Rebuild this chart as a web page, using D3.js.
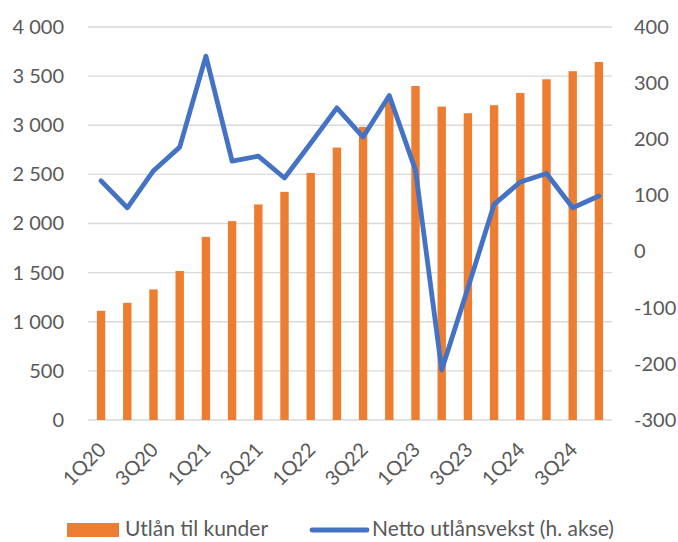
<!DOCTYPE html>
<html>
<head>
<meta charset="utf-8">
<script src="https://cdn.jsdelivr.net/npm/d3@7"></script>
<style>
  body { margin: 0; background: #fff; }
  text { font-family: Lato, 'Noto Sans', sans-serif; fill: #595959; }
</style>
</head>
<body>
<div id="chart"></div>
<script>
const quarters = ['1Q20', '2Q20', '3Q20', '4Q20', '1Q21', '2Q21', '3Q21', '4Q21',
  '1Q22', '2Q22', '3Q22', '4Q22', '1Q23', '2Q23', '3Q23', '4Q23',
  '1Q24', '2Q24', '3Q24', '4Q24']
const utlan = [1112, 1193, 1329, 1517, 1864, 2024, 2194, 2322,
  2515, 2773, 2983, 3250, 3400, 3190, 3122, 3204,
  3329, 3468, 3550, 3644]
const nettoVekst = [126, 78, 144, 186, 348, 161, 170, 131,
  193, 256, 204, 278, 145, -211, -65, 84,
  124, 139, 78, 99]
const leftTicks = [0, 500, 1000, 1500, 2000, 2500, 3000, 3500, 4000]
const rightTicks = [-300, -200, -100, 0, 100, 200, 300, 400]
const seriesNames = ['Utlån til kunder', 'Netto utlånsvekst (h. akse)']

const margin = { top: 27, left: 88, right: 66, bottom: 122 }
const width = 678 - margin.left - margin.right
const height = 542 - margin.top - margin.bottom

const svg = d3
  .select('#chart')
  .append('svg')
  .attr('width', 678)
  .attr('height', 542)

const g = svg
  .append('g')
  .attr('transform', 'translate(' + margin.left + ',' + margin.top + ')')

const xScale = d3.scaleBand()
  .domain(quarters)
  .range([0, width])
  .paddingInner(0.68)
  .paddingOuter(0.34)
const xPoint = d => xScale(d) + xScale.bandwidth() / 2

const yLeft = d3.scaleLinear().domain([0, 4000]).range([height, 0])
const yRight = d3.scaleLinear().domain([-300, 400]).range([height, 0])

// gridlines
g.selectAll('.grid')
  .data(leftTicks)
  .enter()
  .append('line')
  .attr('x1', 0)
  .attr('x2', width)
  .attr('y1', d => yLeft(d))
  .attr('y2', d => yLeft(d))
  .attr('stroke', '#d9d9d9')
  .attr('stroke-width', 1.3)

// bars
g.selectAll('.bar')
  .data(utlan)
  .enter()
  .append('rect')
  .attr('x', (d, i) => xScale(quarters[i]))
  .attr('y', d => yLeft(d))
  .attr('width', xScale.bandwidth())
  .attr('height', d => height - yLeft(d))
  .attr('fill', '#ED7D31')

// line
const line = d3
  .line()
  .x((d, i) => xPoint(quarters[i]))
  .y(d => yRight(d))

g.append('path')
  .datum(nettoVekst)
  .attr('d', line)
  .attr('fill', 'none')
  .attr('stroke', '#4472C4')
  .attr('stroke-width', 4.8)
  .attr('stroke-linejoin', 'round')
  .attr('stroke-linecap', 'round')

// left axis, space as thousands separator
const yAxisLeft = d3.axisLeft(yLeft)
  .tickValues(leftTicks)
  .tickSize(0)
  .tickPadding(24)
  .tickFormat(d => d3.format(',')(d).replace(',', ' '))
g.append('g')
  .attr('class', 'axis')
  .call(yAxisLeft)
  .call(a => a.select('.domain').remove())
  .selectAll('text')
  .attr('font-size', 20)
  .style('white-space', 'pre')

// right axis
const yAxisRight = d3.axisRight(yRight)
  .tickValues(rightTicks)
  .tickSize(0)
  .tickPadding(22)
  .tickFormat(d => String(d))
g.append('g')
  .attr('class', 'axis')
  .attr('transform', 'translate(' + width + ',0)')
  .call(yAxisRight)
  .call(a => a.select('.domain').remove())
  .selectAll('text')
  .attr('font-size', 20)

// x axis, every other label
const xAxis = d3.axisBottom(xScale)
  .tickValues(quarters.filter((d, i) => i % 2 === 0))
  .tickSize(0)
  .tickPadding(0)
const xg = g.append('g')
  .attr('class', 'axis')
  .attr('transform', 'translate(0,' + height + ')')
  .call(xAxis)
xg.select('.domain').remove()
xg.selectAll('text')
  .attr('font-size', 20)
  .attr('text-anchor', 'end')
  .attr('y', 0)
  .attr('dy', 0)
  .attr('transform', 'translate(6,31) rotate(-45)')

// legend
const legend = svg.append('g')
legend.append('rect')
  .attr('x', 67)
  .attr('y', 523)
  .attr('width', 52)
  .attr('height', 14)
  .attr('fill', '#ED7D31')
legend.append('text')
  .attr('x', 125)
  .attr('y', 536)
  .attr('font-size', 21)
  .text(seriesNames[0])
legend.append('line')
  .attr('x1', 312)
  .attr('x2', 367)
  .attr('y1', 530)
  .attr('y2', 530)
  .attr('stroke', '#4472C4')
  .attr('stroke-width', 4.8)
  .attr('stroke-linecap', 'round')
legend.append('text')
  .attr('x', 372)
  .attr('y', 536)
  .attr('font-size', 21)
  .text(seriesNames[1])
</script>
</body>
</html>
